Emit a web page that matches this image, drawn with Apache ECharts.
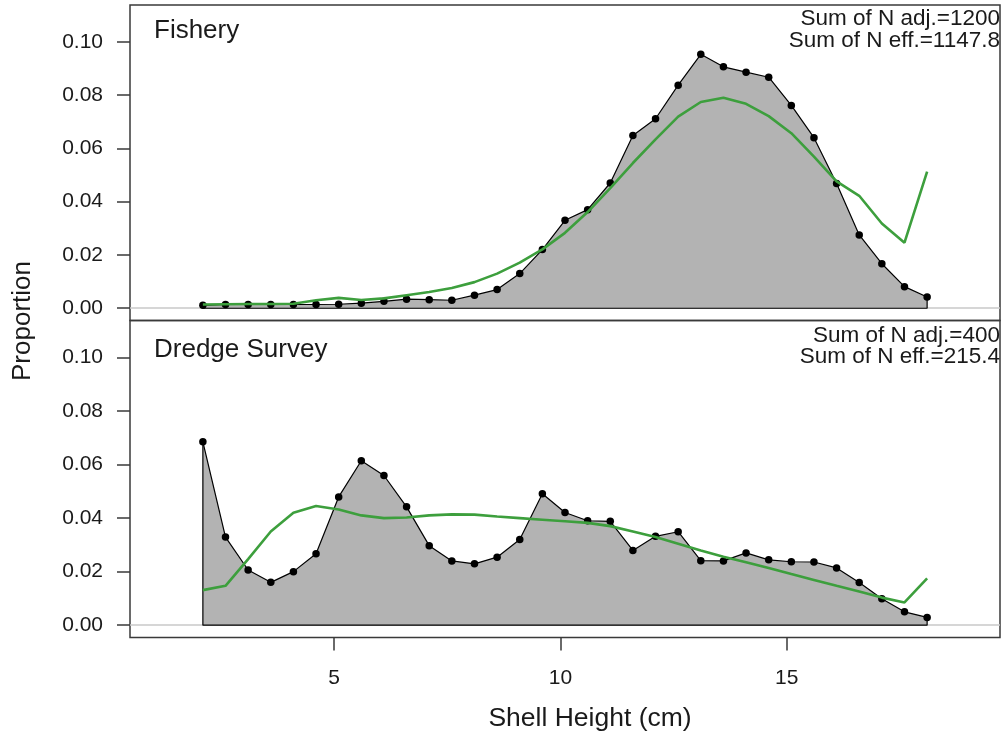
<!DOCTYPE html>
<html>
<head>
<meta charset="utf-8">
<script src="https://cdn.jsdelivr.net/npm/echarts@6/dist/echarts.min.js"></script>
<style>
  html, body { margin: 0; padding: 0; background: #ffffff; }
  #chart { width: 1004px; height: 742px; }
</style>
</head>
<body>
<div id="chart"></div>
<script>
// Shell height bins (cm)
const shellHeight = [2.1, 2.6, 3.1, 3.6, 4.1, 4.6, 5.1, 5.6, 6.1, 6.6, 7.1, 7.6, 8.1, 8.6, 9.1, 9.6,
  10.1, 10.6, 11.1, 11.6, 12.1, 12.6, 13.1, 13.6, 14.1, 14.6, 15.1, 15.6, 16.1, 16.6, 17.1, 17.6, 18.1];

// Fishery: observed and expected proportions
const fisheryObs = [0.0011, 0.0014, 0.0014, 0.0014, 0.0014, 0.0014, 0.0015, 0.0019, 0.0026, 0.0034, 0.0032,
  0.0030, 0.0049, 0.0070, 0.0130, 0.0220, 0.0330, 0.0370, 0.0470, 0.0648, 0.0711, 0.0837, 0.0953, 0.0906,
  0.0886, 0.0867, 0.0761, 0.0640, 0.0468, 0.0275, 0.0167, 0.0081, 0.0042];
const fisheryExp = [0.0014, 0.0015, 0.0016, 0.0016, 0.0017, 0.0030, 0.0039, 0.0031, 0.0037, 0.0049, 0.0061,
  0.0076, 0.0098, 0.0130, 0.0171, 0.0221, 0.0283, 0.0361, 0.0451, 0.0545, 0.0634, 0.0719, 0.0774, 0.0790,
  0.0767, 0.0721, 0.0657, 0.0569, 0.0476, 0.0422, 0.0318, 0.0246, 0.0513];

// Dredge survey: observed and expected proportions
const dredgeObs = [0.0685, 0.0329, 0.0206, 0.0160, 0.0200, 0.0267, 0.0479, 0.0614, 0.0559, 0.0442, 0.0297,
  0.0240, 0.0229, 0.0254, 0.0320, 0.0491, 0.0421, 0.0390, 0.0388, 0.0279, 0.0332, 0.0349, 0.0241, 0.0240,
  0.0270, 0.0244, 0.0237, 0.0236, 0.0214, 0.0159, 0.0099, 0.0050, 0.0029];
const dredgeExp = [0.0131, 0.0147, 0.0247, 0.0350, 0.0420, 0.0445, 0.0432, 0.0410, 0.0400, 0.0402, 0.0410,
  0.0414, 0.0413, 0.0406, 0.0400, 0.0394, 0.0388, 0.0382, 0.0370, 0.0350, 0.0329, 0.0304, 0.0279, 0.0256,
  0.0235, 0.0214, 0.0191, 0.0169, 0.0147, 0.0126, 0.0103, 0.0085, 0.0175];

// Axis ticks and panel annotations
const xTicks = [5, 10, 15];
const yTicks = [0, 0.02, 0.04, 0.06, 0.08, 0.10];
const panelNames = ['Fishery', 'Dredge Survey'];
const sumAdj = ['Sum of N adj.=1200', 'Sum of N adj.=400'];
const sumEff = ['Sum of N eff.=1147.8', 'Sum of N eff.=215.4'];

const FONT = '"Liberation Sans", Arial, Helvetica, sans-serif';
const INK = '#1a1a1a';
const FRAME = '#3a3a3a';
const X_MIN = 0.49, X_MAX = 19.71;
const Y_MIN = -0.0046, Y_MAX = 0.1138;

const panels = [
  { top: 5, height: 315.5, nameY: 26, sumY: 14, obs: fisheryObs, exp: fisheryExp },
  { top: 320.5, height: 317, nameY: 29, sumY: 15, obs: dredgeObs, exp: dredgeExp }
];

const pairs = (xs, ys) => xs.map((x, i) => [x, ys[i]]);

const grids = [], xAxes = [], yAxes = [], series = [], graphics = [];

panels.forEach((p, k) => {
  const isBottom = k === panels.length - 1;
  grids.push({
    left: 130, top: p.top, width: 870, height: p.height,
    show: true, borderColor: FRAME, borderWidth: 1.5, backgroundColor: 'transparent'
  });
  xAxes.push({
    gridIndex: k, type: 'value', min: X_MIN, max: X_MAX,
    show: isBottom, position: 'bottom',
    axisLine: { show: false, onZero: false },
    splitLine: { show: false },
    axisTick: { show: true, inside: false, length: 13, customValues: xTicks,
      lineStyle: { color: FRAME, width: 1.5 } },
    axisLabel: { show: true, customValues: xTicks, margin: 30, fontSize: 21,
      fontFamily: FONT, color: INK }
  });
  yAxes.push({
    gridIndex: k, type: 'value', min: Y_MIN, max: Y_MAX,
    axisLine: { show: false, onZero: false },
    splitLine: { show: false },
    axisTick: { show: true, inside: false, length: 13, customValues: yTicks,
      lineStyle: { color: FRAME, width: 1.5 } },
    axisLabel: { show: true, customValues: yTicks, margin: 27, fontSize: 21,
      fontFamily: FONT, color: INK, formatter: v => v.toFixed(2) }
  });

  const xs = shellHeight;
  const n = xs.length - 1;

  // observed composition: grey polygon with black outline and points
  series.push({
    type: 'line', xAxisIndex: k, yAxisIndex: k, z: 2,
    data: pairs(xs, p.obs),
    symbol: 'circle', symbolSize: 7.5, showSymbol: true,
    itemStyle: { color: '#000000' },
    lineStyle: { color: '#000000', width: 1.2 },
    areaStyle: { color: '#b3b3b3', opacity: 1 },
    markLine: {
      silent: true, symbol: 'none', z: 1,
      label: { show: false },
      lineStyle: { color: '#c8c8c8', type: 'solid', width: 1.5 },
      data: [{ yAxis: 0 }]
    }
  });
  // closing edges of the polygon down to zero
  series.push({
    type: 'line', xAxisIndex: k, yAxisIndex: k, z: 3,
    data: [[xs[n], p.obs[n]], [xs[n], 0], [xs[0], 0], [xs[0], p.obs[0]]],
    symbol: 'none',
    lineStyle: { color: '#000000', width: 1.2 }
  });
  // expected composition
  series.push({
    type: 'line', xAxisIndex: k, yAxisIndex: k, z: 4,
    data: pairs(xs, p.exp),
    symbol: 'none',
    lineStyle: { color: '#3d9f3d', width: 2.6 }
  });

  graphics.push({
    type: 'text', x: 154, y: p.top + p.nameY,
    style: { text: panelNames[k], font: '26px ' + FONT, fill: INK, verticalAlign: 'middle' }
  });
  graphics.push({
    type: 'text', x: 1000, y: p.top + p.sumY,
    style: { text: sumAdj[k], font: '22.5px ' + FONT, fill: INK,
      align: 'right', verticalAlign: 'middle' }
  });
  graphics.push({
    type: 'text', x: 1000, y: p.top + p.sumY + 21.5,
    style: { text: sumEff[k], font: '22.5px ' + FONT, fill: INK,
      align: 'right', verticalAlign: 'middle' }
  });
});

graphics.push({
  type: 'text', x: 590, y: 719,
  style: { text: 'Shell Height (cm)', font: '26.5px ' + FONT, fill: INK,
    align: 'center', verticalAlign: 'middle' }
});
graphics.push({
  type: 'text', x: 23, y: 321, rotation: Math.PI / 2,
  style: { text: 'Proportion', font: '26px ' + FONT, fill: INK,
    align: 'center', verticalAlign: 'middle' }
});

const chart = echarts.init(document.getElementById('chart'), null, { renderer: 'canvas' });
chart.setOption({
  animation: false,
  backgroundColor: '#ffffff',
  grid: grids,
  xAxis: xAxes,
  yAxis: yAxes,
  series: series,
  graphic: graphics
});
</script>
</body>
</html>
